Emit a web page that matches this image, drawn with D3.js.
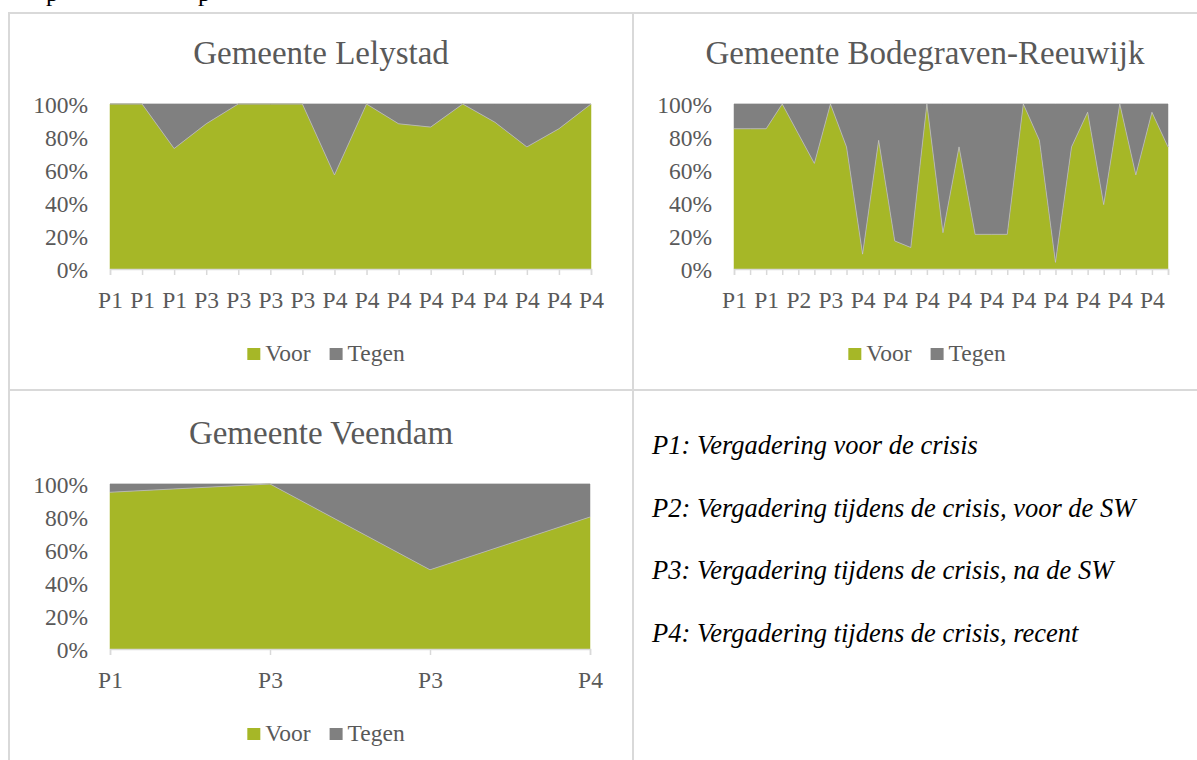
<!DOCTYPE html>
<html>
<head>
<meta charset="utf-8">
<script src="https://cdn.jsdelivr.net/npm/d3@7"></script>
<style>
  html, body { margin: 0; padding: 0; background: #ffffff; }
  svg { display: block; }
</style>
</head>
<body>
<svg id="chart" width="1197" height="760"></svg>
<script>
// ---------- DATA ----------
const seriesNames = ["Voor", "Tegen"];

const lelystadCategories = ["P1","P1","P1","P3","P3","P3","P3","P4","P4","P4","P4","P4","P4","P4","P4","P4"];
const lelystadVoor  = [100,100,73,88,100,100,100,57,100,88,86,100,89,74,85,100];
const lelystadTegen = [0,0,27,12,0,0,0,43,0,12,14,0,11,26,15,0];

const bodegravenCategories = ["P1","P1","P1","P1","P2","P2","P3","P3","P4","P4","P4","P4","P4","P4","P4","P4","P4","P4","P4","P4","P4","P4","P4","P4","P4","P4","P4","P4"];
const bodegravenVoor  = [85,85,85,100,82,64,100,74,9,78,17,13,100,22,74,21,21,21,100,78,4,74,95,39,100,57,95,74];
const bodegravenTegen = [15,15,15,0,18,36,0,26,91,22,83,87,0,78,26,79,79,79,0,22,96,26,5,61,0,43,5,26];

const veendamCategories = ["P1","P3","P3","P4"];
const veendamVoor  = [95,100,48,80];
const veendamTegen = [5,0,52,20];

const yTicks = [0, 0.2, 0.4, 0.6, 0.8, 1.0];

const notes = [
  "P1: Vergadering voor de crisis",
  "P2: Vergadering tijdens de crisis, voor de SW",
  "P3: Vergadering tijdens de crisis, na de SW",
  "P4: Vergadering tijdens de crisis, recent"
];

// ---------- STYLE ----------
const GREEN = "#A6B727";
const GRAY = "#808080";
const TEXT = "#595959";
const BORDER = "#d9d9d9";
const FONT = "'Liberation Serif', 'Times New Roman', serif";

const svg = d3.select("#chart");

// table borders
const borders = svg.append("g").attr("fill", BORDER);
borders.append("rect").attr("x", 8).attr("y", 12).attr("width", 1189).attr("height", 2);
borders.append("rect").attr("x", 8).attr("y", 12).attr("width", 2).attr("height", 748);
borders.append("rect").attr("x", 632).attr("y", 12).attr("width", 2).attr("height", 748);
borders.append("rect").attr("x", 8).attr("y", 389).attr("width", 1189).attr("height", 2);

// cut-off text from previous line (only descenders visible)
svg.append("g").attr("font-family", FONT).attr("font-size", 25).attr("fill", "#000")
  .selectAll("text").data([{x: 46, t: "p"}, {x: 198, t: "p"}]).join("text")
  .attr("x", d => d.x).attr("y", 1).text(d => d.t);

function drawPanel(cfg) {
  const g = svg.append("g");
  const n = cfg.categories.length;
  const idx = d3.range(n);
  const x = d3.scalePoint().domain(idx).range([cfg.left, cfg.right]).padding(0);
  const y = d3.scaleLinear().domain([0, 1]).range([cfg.bottom, cfg.top]);

  const rows = idx.map(i => ({i, Voor: cfg.voor[i], Tegen: cfg.tegen[i]}));
  const stack = d3.stack().keys(seriesNames).offset(d3.stackOffsetExpand);
  const layers = stack(rows);
  const colors = {Voor: GREEN, Tegen: GRAY};

  // gridlines (behind)
  g.append("g").selectAll("line").data(yTicks).join("line")
    .attr("x1", cfg.left).attr("x2", cfg.right)
    .attr("y1", d => y(d)).attr("y2", d => y(d))
    .attr("stroke", BORDER).attr("stroke-width", 1);

  const area = d3.area()
    .x(d => x(d.data.i))
    .y0(d => y(d[0]))
    .y1(d => y(d[1]));

  g.append("g").selectAll("path").data(layers).join("path")
    .attr("d", area)
    .attr("fill", d => colors[d.key])
    .attr("stroke", d => colors[d.key])
    .attr("stroke-width", 0.5);

  // subtle light boundary line between series
  const boundary = d3.line().x(d => x(d.data.i)).y(d => y(d[1]));
  g.append("path").datum(layers[0]).attr("d", boundary)
    .attr("fill", "none").attr("stroke", "#d8d8d8").attr("stroke-width", 0.8).attr("opacity", 0.7);

  // x axis
  const xAxis = d3.axisBottom(x).tickSize(6).tickPadding(16)
    .tickFormat(i => (i % cfg.labelStep === 0) ? cfg.categories[i] : "");
  const xa = g.append("g").attr("transform", `translate(0,${cfg.bottom})`).call(xAxis);
  xa.select(".domain").attr("stroke", BORDER).attr("stroke-width", 1.5);
  xa.selectAll(".tick line").attr("stroke", BORDER).attr("stroke-width", 1.5);
  xa.selectAll("text").attr("font-family", FONT).attr("font-size", 23.5).attr("fill", TEXT);

  // y axis
  const yAxis = d3.axisLeft(y).tickValues(yTicks).tickSize(0).tickPadding(22)
    .tickFormat(d3.format(".0%"));
  const ya = g.append("g").attr("transform", `translate(${cfg.left},0)`).call(yAxis);
  ya.select(".domain").remove();
  ya.selectAll("text").attr("font-family", FONT).attr("font-size", 23.5).attr("fill", TEXT).attr("dy", "0.36em");

  // title
  g.append("text").attr("x", cfg.titleX).attr("y", cfg.titleY)
    .attr("text-anchor", "middle").attr("font-family", FONT).attr("font-size", 33)
    .attr("fill", TEXT).text(cfg.title);

  // legend
  const lg = g.append("g").attr("font-family", FONT).attr("font-size", 23.5).attr("fill", TEXT);
  let cx = 0;
  seriesNames.forEach((name, k) => {
    lg.append("rect").attr("x", cx).attr("y", cfg.legendY - 13)
      .attr("width", 13).attr("height", 12).attr("fill", colors[name]);
    cx += 13 + 5;
    const t = lg.append("text").attr("x", cx).attr("y", cfg.legendY).attr("fill", TEXT).text(name);
    cx += t.node().getComputedTextLength();
    if (k < seriesNames.length - 1) cx += 19;
  });
  lg.attr("transform", `translate(${cfg.legendCenter - cx / 2},0)`);
}

drawPanel({
  title: "Gemeente Lelystad", titleX: 321, titleY: 64,
  categories: lelystadCategories, voor: lelystadVoor, tegen: lelystadTegen,
  left: 110, right: 591, top: 104, bottom: 269, labelStep: 1,
  legendY: 361, legendCenter: 326
});

drawPanel({
  title: "Gemeente Bodegraven-Reeuwijk", titleX: 925, titleY: 64,
  categories: bodegravenCategories, voor: bodegravenVoor, tegen: bodegravenTegen,
  left: 734, right: 1168, top: 104, bottom: 269, labelStep: 2,
  legendY: 361, legendCenter: 927
});

drawPanel({
  title: "Gemeente Veendam", titleX: 321, titleY: 444,
  categories: veendamCategories, voor: veendamVoor, tegen: veendamTegen,
  left: 110, right: 590, top: 484, bottom: 649, labelStep: 1,
  legendY: 741, legendCenter: 326
});

// notes
svg.append("g").attr("font-family", FONT).attr("font-size", 26.5).attr("font-style", "italic")
  .attr("fill", "#000")
  .selectAll("text").data(notes).join("text")
  .attr("x", 652).attr("y", (d, i) => 454 + i * 62.5).text(d => d);
</script>
</body>
</html>
